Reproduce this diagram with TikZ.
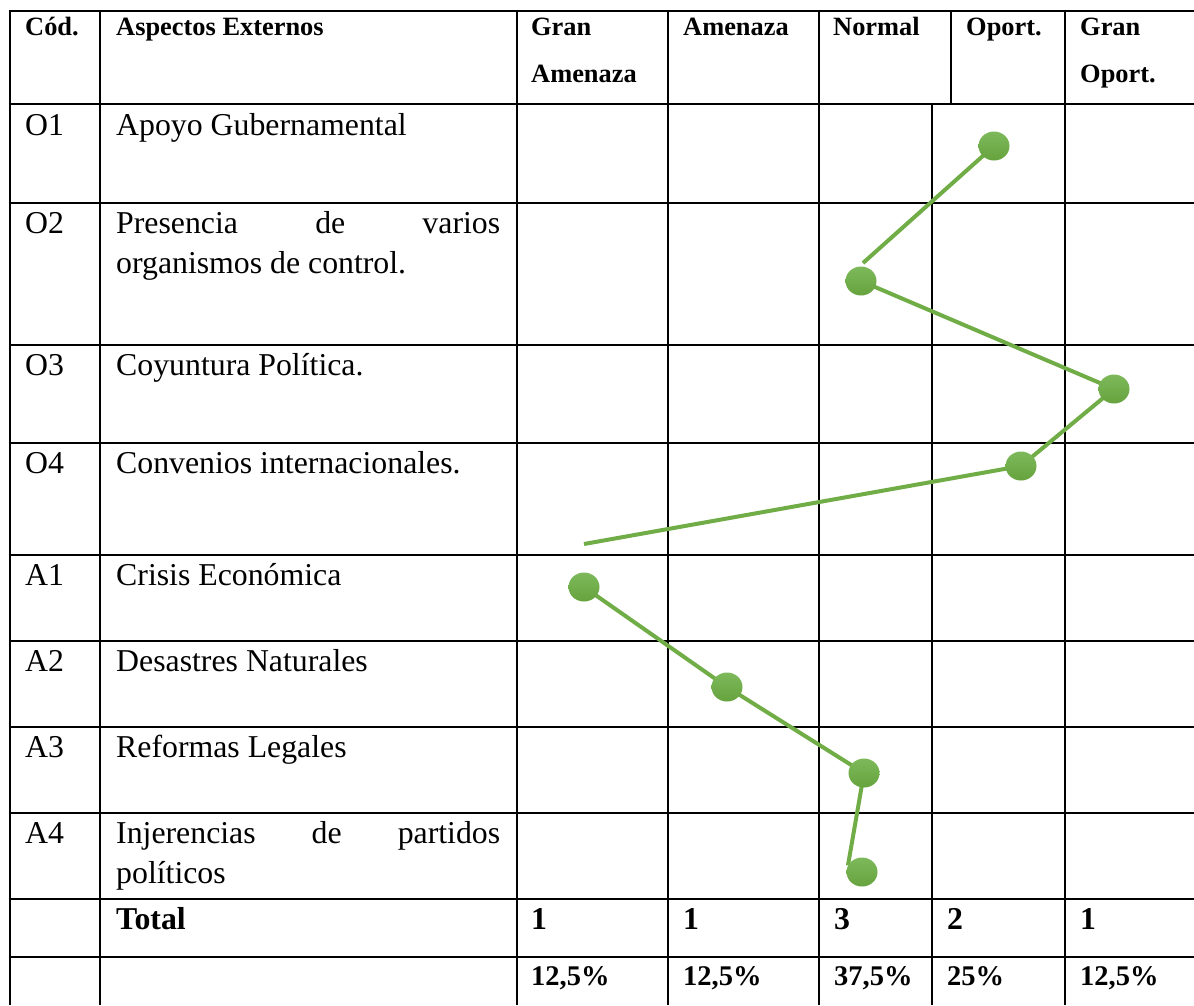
\documentclass[tikz,border=0pt]{standalone}
\usepackage{fontspec}
\setmainfont{Liberation Serif}
\usetikzlibrary{shapes.geometric}
\pgfdeclarelayer{grid}
\pgfdeclarelayer{links}
\pgfsetlayers{grid,links,main}

\definecolor{dotgreen}{HTML}{70AD47}
\definecolor{dotlight}{HTML}{7DB95A}
\definecolor{dotdark}{HTML}{66A33E}

\tikzset{
  rulestyle/.style={line width=2.8pt, black},
  hdr/.style={anchor=base west, inner sep=0pt, font=\fontsize{26.4}{26.4}\selectfont\bfseries},
  body/.style={anchor=base west, inner sep=0pt, font=\fontsize{31.8}{31.8}\selectfont},
  tot/.style={anchor=base west, inner sep=0pt, font=\fontsize{31.8}{31.8}\selectfont\bfseries},
  pct/.style={anchor=base west, inner sep=0pt, font=\fontsize{28.5}{28.5}\selectfont\bfseries},
  gdot/.style={ellipse, minimum width=31pt, minimum height=29pt, inner sep=0pt,
    top color=dotlight, bottom color=dotdark, draw=none},
  link/.style={line width=4pt, dotgreen}
}

\begin{document}
\begin{tikzpicture}[x=1pt, y=-1pt]
\useasboundingbox (0,0) rectangle (1194,1005);

% ---- table rules ----
\begin{pgfonlayer}{grid}
  \foreach \yy in {11,104,203,345,443,555,641,727,813,899,957}
    \draw[rulestyle] (8.6,\yy) -- (1194,\yy);
  \foreach \xx in {10,100,517,668,819,1065}
    \draw[rulestyle] (\xx,9.6) -- (\xx,1005);
  \draw[rulestyle] (951,11) -- (951,104);
  \draw[rulestyle] (932,104) -- (932,1005);
\end{pgfonlayer}

% ---- header ----
\node[hdr] (h-cod) at (25,35) {Cód.};
\node[hdr] (h-asp) at (116,35) {Aspectos Externos};
\node[hdr] (h-ga1) at (531,35) {Gran};
\node[hdr] (h-ga2) at (531,82) {Amenaza};
\node[hdr] (h-am) at (683,35) {Amenaza};
\node[hdr] (h-no) at (833,35) {Normal};
\node[hdr] (h-op) at (966,35) {Oport.};
\node[hdr] (h-go1) at (1080,35) {Gran};
\node[hdr] (h-go2) at (1080,82) {Oport.};

% ---- factor rows ----
\node[body] (c-o1) at (25,135) {O1};
\node[body] (d-o1) at (116,135) {Apoyo Gubernamental};
\node[body] (c-o2) at (25,233) {O2};
\node[body] (d-o2a) at (116,233) {\makebox[384pt][s]{Presencia de varios}};
\node[body] (d-o2b) at (116,273) {organismos de control.};
\node[body] (c-o3) at (25,375) {O3};
\node[body] (d-o3) at (116,375) {Coyuntura Política.};
\node[body] (c-o4) at (25,473) {O4};
\node[body] (d-o4) at (116,473) {Convenios internacionales.};
\node[body] (c-a1) at (25,585) {A1};
\node[body] (d-a1) at (116,585) {Crisis Económica};
\node[body] (c-a2) at (25,671) {A2};
\node[body] (d-a2) at (116,671) {Desastres Naturales};
\node[body] (c-a3) at (25,757) {A3};
\node[body] (d-a3) at (116,757) {Reformas Legales};
\node[body] (c-a4) at (25,843) {A4};
\node[body] (d-a4a) at (116,843) {\makebox[384pt][s]{Injerencias de partidos}};
\node[body] (d-a4b) at (116,883) {políticos};

% ---- totals ----
\node[tot] (t-lab) at (116,929) {Total};
\node[tot] (t-ga) at (531,929) {1};
\node[tot] (t-am) at (683,929) {1};
\node[tot] (t-no) at (834,929) {3};
\node[tot] (t-op) at (947,929) {2};
\node[tot] (t-go) at (1080,929) {1};

\node[pct] (p-ga) at (531,985) {12,5\%};
\node[pct] (p-am) at (683,985) {12,5\%};
\node[pct] (p-no) at (834,985) {37,5\%};
\node[pct] (p-op) at (947,985) {25\%};
\node[pct] (p-go) at (1080,985) {12,5\%};

% ---- profile markers ----
\node[gdot] (o1) at (994,146) {};
\node[gdot] (o2) at (861,281) {};
\node[gdot] (o3) at (1114,389) {};
\node[gdot] (o4) at (1021,466) {};
\node[gdot] (a1) at (584,587) {};
\node[gdot] (a2) at (727,687) {};
\node[gdot] (a3) at (864,773) {};
\node[gdot] (a4) at (862,872) {};
\coordinate (o1end) at (863,263);
\coordinate (o4end) at (584,544);

% ---- profile links ----
\begin{pgfonlayer}{links}
  \draw[link] (o1.center) -- (o1end);
  \draw[link] (o2.center) -- (o3.center) -- (o4.center) -- (o4end);
  \draw[link] (a1.center) -- (a2.center) -- (a3.center) -- (a4.155);
\end{pgfonlayer}
\end{tikzpicture}
\end{document}
